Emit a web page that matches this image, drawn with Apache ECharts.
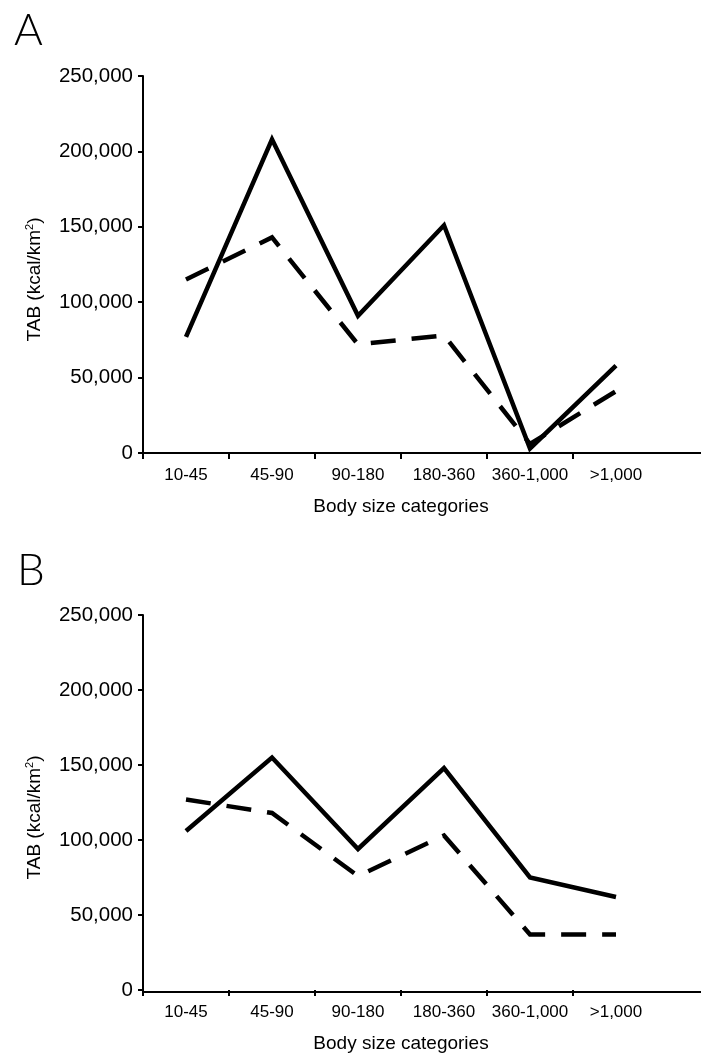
<!DOCTYPE html>
<html>
<head>
<meta charset="utf-8">
<script src="https://cdn.jsdelivr.net/npm/echarts@6/dist/echarts.min.js"></script>
<style>
html,body{margin:0;padding:0;background:#fff;}
#c{width:701px;height:1054px;}
</style>
</head>
<body>
<div id="c"></div>
<script>
var categories = ['10-45', '45-90', '90-180', '180-360', '360-1,000', '>1,000'];
var aSolid  = [77000, 208000, 91000, 151000, 3000, 58000];
var aDashed = [115000, 143000, 72000, 78000, 6000, 41000];
var bSolid  = [106000, 155000, 94000, 148000, 75000, 62000];
var bDashed = [127000, 118000, 76000, 103000, 37000, 37000];
var yTicks  = [0, 50000, 100000, 150000, 200000, 250000];
var panelLabels = ['A', 'B'];

var FONT = '"Liberation Sans", Arial, sans-serif';
var BLACK = '#000';

function idxPairs(vals) { return vals.map(function (v, i) { return [i, v]; }); }

var gridTops = [76, 615];
var grids = [], xAxes = [], yAxes = [], series = [];

gridTops.forEach(function (top, p) {
  var g = p * 2;
  grids.push({ left: 143, top: top, width: 516, height: 377, containLabel: false });
  grids.push({ left: 143, top: top, right: 0, height: 377, containLabel: false });

  xAxes.push({
    gridIndex: g,
    type: 'value',
    min: -0.5,
    max: categories.length - 0.5,
    axisLine: { show: false },
    axisTick: {
      show: true, inside: false, length: 6,
      lineStyle: { color: BLACK, width: 2 },
      customValues: categories.map(function (c, i) { return i - 0.5; })
    },
    axisLabel: {
      show: true, margin: 14, color: BLACK, fontFamily: FONT, fontSize: 17,
      customValues: categories.map(function (c, i) { return i; }),
      formatter: function (v) { return categories[Math.round(v)]; }
    },
    splitLine: { show: false },
    name: 'Body size categories',
    nameLocation: 'middle',
    nameGap: 44,
    nameTextStyle: { color: BLACK, fontFamily: FONT, fontSize: 19 }
  });
  xAxes.push({
    gridIndex: g + 1,
    type: 'category',
    data: [''],
    axisLine: { show: true, onZero: false, lineStyle: { color: BLACK, width: 2 } },
    axisTick: { show: false },
    axisLabel: { show: false },
    splitLine: { show: false }
  });

  yAxes.push({
    gridIndex: g,
    type: 'value',
    min: yTicks[0],
    max: yTicks[yTicks.length - 1],
    interval: yTicks[1] - yTicks[0],
    axisLine: { show: true, onZero: false, lineStyle: { color: BLACK, width: 2 } },
    axisTick: { show: true, inside: false, length: 5, lineStyle: { color: BLACK, width: 2 } },
    axisLabel: {
      margin: 10, color: BLACK, fontFamily: FONT, fontSize: 20.5,
      formatter: function (v) { return v.toLocaleString('en-US'); }
    },
    splitLine: { show: false },
    name: '{a|TAB (kcal/km}{s|2}{a|)}',
    nameLocation: 'middle',
    nameRotate: 90,
    nameGap: 97,
    nameTextStyle: {
      color: BLACK, fontFamily: FONT, fontSize: 19,
      padding: [0, 30, 0, 0],
      rich: {
        a: { color: BLACK, fontFamily: FONT, fontSize: 19, lineHeight: 22 },
        s: { color: BLACK, fontFamily: FONT, fontSize: 11, lineHeight: 22, verticalAlign: 'top' }
      }
    }
  });
  yAxes.push({
    gridIndex: g + 1, type: 'value', show: false, min: 0, max: 1
  });

  var solid = p === 0 ? aSolid : bSolid;
  var dashed = p === 0 ? aDashed : bDashed;
  series.push({
    type: 'line', xAxisIndex: g, yAxisIndex: g, data: idxPairs(dashed),
    symbol: 'none', silent: true, animation: false,
    lineStyle: { color: BLACK, width: 4.5, type: [25, 16], cap: 'butt', join: 'miter' }
  });
  series.push({
    type: 'line', xAxisIndex: g, yAxisIndex: g, data: idxPairs(solid),
    symbol: 'none', silent: true, animation: false,
    lineStyle: { color: BLACK, width: 4.5, type: 'solid', cap: 'butt', join: 'miter' }
  });
});

var chart = echarts.init(document.getElementById('c'), null, { renderer: 'canvas' });
chart.setOption({
  backgroundColor: '#fff',
  animation: false,
  graphic: [
    { type: 'text', left: 14, top: 9, style: { text: panelLabels[0], fill: BLACK, fontFamily: 'Lato, "Noto Sans", sans-serif', fontWeight: 300, fontSize: 44 } },
    { type: 'text', left: 17, top: 549, style: { text: panelLabels[1], fill: BLACK, fontFamily: 'Lato, "Noto Sans", sans-serif', fontWeight: 300, fontSize: 44 } }
  ],
  grid: grids,
  xAxis: xAxes,
  yAxis: yAxes,
  series: series
});
</script>
</body>
</html>
